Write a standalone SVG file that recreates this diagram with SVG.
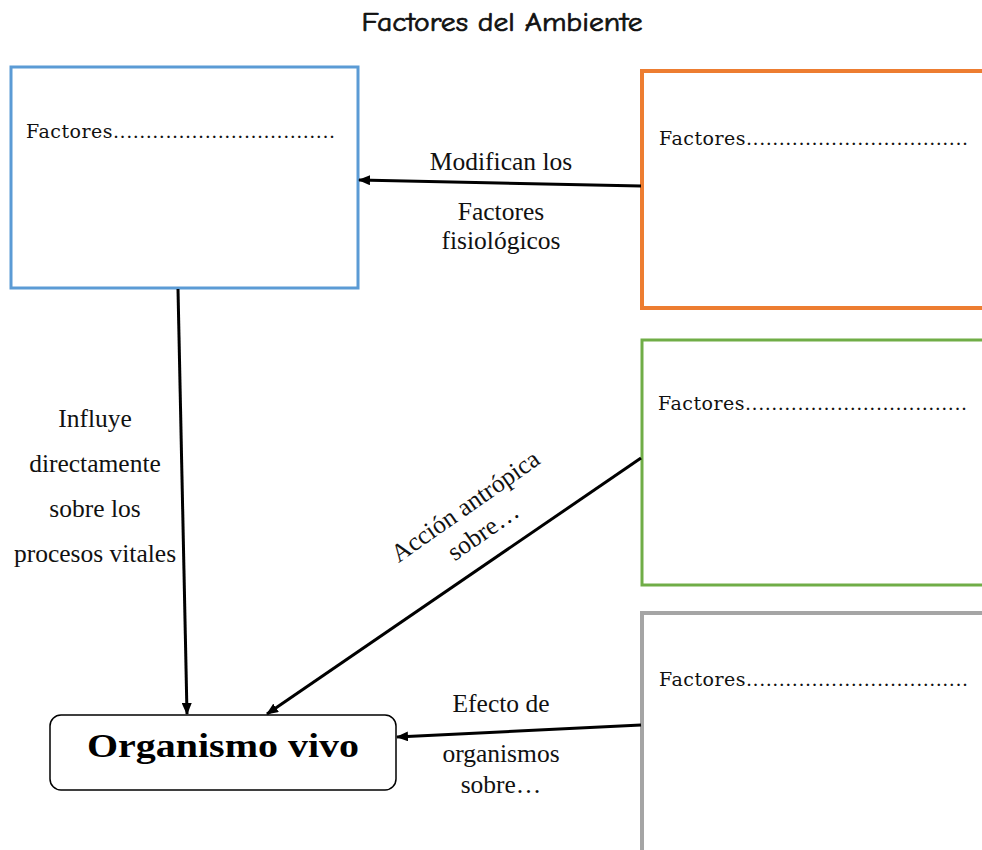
<svg xmlns="http://www.w3.org/2000/svg" width="982" height="850" viewBox="0 0 982 850">
<defs>
<marker id="ah" viewBox="0 0 12 10" refX="11" refY="5" markerWidth="12" markerHeight="10" markerUnits="userSpaceOnUse" orient="auto">
<path d="M0,0 L12,5 L0,10 z" fill="#000"/>
</marker>
<style>
.box{fill:#fff;}
.ft{font-family:"DejaVu Serif","Liberation Serif",serif;font-size:19px;fill:#111;}
.lb{font-family:"Liberation Serif","Times New Roman",serif;font-size:25.5px;fill:#111;text-anchor:middle;}
.cn{stroke:#000;stroke-width:3;fill:none;marker-end:url(#ah);}
</style>
</defs>
<rect width="982" height="850" fill="#fff"/>
<text x="502" y="31" font-family="'Comic Neue','DejaVu Sans',sans-serif" font-size="26" text-anchor="middle" textLength="281" lengthAdjust="spacingAndGlyphs" fill="#111" stroke="#111" stroke-width="0.7">Factores del Ambiente</text>

<g id="node-blue">
<rect class="box" x="11" y="67" width="347" height="221" stroke="#5B9BD5" stroke-width="3"/>
<text class="ft" x="26" y="138" textLength="309" lengthAdjust="spacing">Factores..................................</text>
</g>
<g id="node-orange">
<rect class="box" x="642" y="71" width="400" height="237" stroke="#ED7D31" stroke-width="4"/>
<text class="ft" x="659" y="145" textLength="309" lengthAdjust="spacing">Factores..................................</text>
</g>
<g id="node-green">
<rect class="box" x="642" y="340" width="400" height="245" stroke="#70AD47" stroke-width="3"/>
<text class="ft" x="658" y="410" textLength="309" lengthAdjust="spacing">Factores..................................</text>
</g>
<g id="node-gray">
<rect class="box" x="642" y="613" width="400" height="300" stroke="#A5A5A5" stroke-width="4"/>
<text class="ft" x="659" y="686" textLength="309" lengthAdjust="spacing">Factores..................................</text>
</g>
<g id="node-organismo">
<rect class="box" x="50" y="715" width="346" height="75" rx="11" stroke="#000" stroke-width="1.5"/>
<text x="223" y="757" font-family="'Liberation Serif','Times New Roman',serif" font-size="34" font-weight="bold" text-anchor="middle" textLength="272" lengthAdjust="spacingAndGlyphs" fill="#000">Organismo vivo</text>
</g>

<g id="connectors">
<line class="cn" x1="641" y1="186" x2="359" y2="180"/>
<line class="cn" x1="178" y1="289" x2="187" y2="714"/>
<line class="cn" x1="641" y1="458" x2="267" y2="714"/>
<line class="cn" x1="641" y1="725" x2="397" y2="737"/>
</g>

<g id="labels">
<text class="lb" x="501" y="170">Modifican los</text>
<text class="lb" x="501" y="220">Factores</text>
<text class="lb" x="501" y="249">fisiológicos</text>
<text class="lb" x="95" y="427">Influye</text>
<text class="lb" x="95" y="472">directamente</text>
<text class="lb" x="95" y="517">sobre los</text>
<text class="lb" x="95" y="562">procesos vitales</text>
<g transform="translate(470,513) rotate(-35)">
<text class="lb" x="0" y="0">Acción antrópica</text>
<text class="lb" x="0" y="31">sobre…</text>
</g>
<text class="lb" x="501" y="712">Efecto de</text>
<text class="lb" x="501" y="762">organismos</text>
<text class="lb" x="501" y="793">sobre…</text>
</g>
</svg>
